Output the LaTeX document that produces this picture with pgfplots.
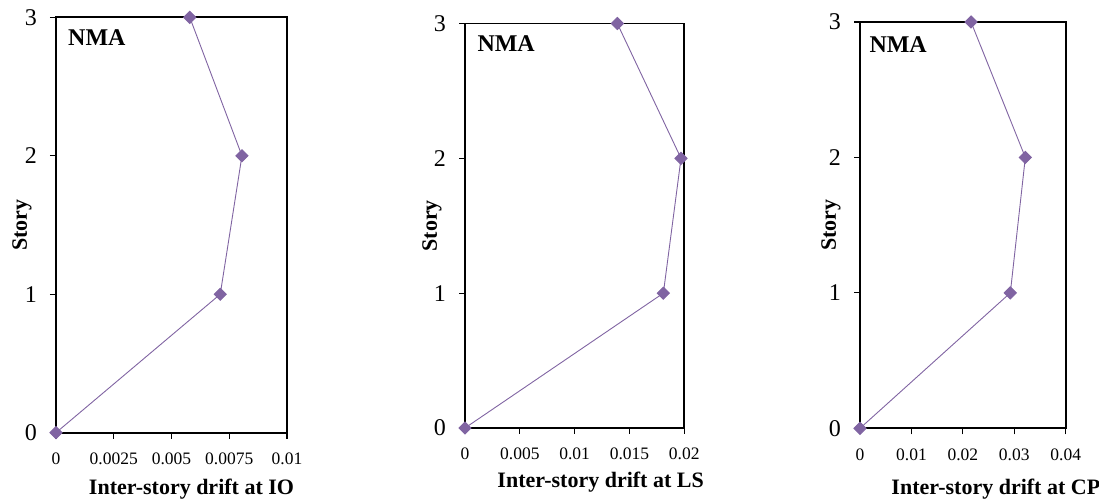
\documentclass[border=0pt]{standalone}
\usepackage{pgfplots}
\pgfplotsset{compat=1.18}
\usepackage{fontspec}
\setmainfont{Liberation Serif}
\definecolor{pur}{HTML}{8064A2}
\pgfplotsset{
  panel/.style={
    scale only axis,
    anchor=south west,
    axis line style={black, line width=1.8pt},
    tick style={black, line width=1.2pt},
    tick align=outside,
    major tick length=6pt,
    xtick pos=bottom, ytick pos=left,
    ymin=0, ymax=3, ytick={0,1,2,3},
    xmin=0,
    clip=false,
    scaled ticks=false,
    /pgf/number format/assume math mode=true,
    yticklabel style={font=\fontsize{24}{24}\selectfont, anchor=east, inner sep=0pt, xshift=-13pt},
    xticklabel style={font=\fontsize{17.5}{17.5}\selectfont, anchor=north, inner sep=0pt, yshift=-14pt},
    label style={font=\fontsize{22}{22}\bfseries\selectfont},
    ylabel={Story},
  },
  ser/.style={pur, line width=0.9pt, mark=square*, mark size=4.3pt, mark options={rotate=45, fill=pur, draw=pur}},
}
\begin{document}
\begin{tikzpicture}[x=1pt,y=1pt]
\path[use as bounding box] (0,0) rectangle (1099,502);
% Panel 1
\begin{axis}[panel, at={(56pt,69.3pt)}, width=231pt, height=415.4pt,
  xmax=0.01, xtick={0,0.0025,0.005,0.0075,0.01},
  xticklabels={0,0.0025,0.005,0.0075,0.01},
  xlabel={Inter-story drift at IO},
  xlabel style={at={([xshift=20pt,yshift=-61.9pt]axis description cs:0.5,0)}, anchor=base},
  ylabel style={at={([xshift=-34pt]axis description cs:0,0.5)}, anchor=center},
]
\addplot[ser] coordinates {(0,0) (0.00711,1) (0.00805,2) (0.00579,3)};
\node[anchor=base west, font=\fontsize{24}{24}\bfseries\selectfont, inner sep=0pt] at ([xshift=12pt,yshift=-28.7pt]axis description cs:0,1) {NMA};
\end{axis}
% Panel 2
\begin{axis}[panel, at={(465pt,74pt)}, width=219.3pt, height=404.5pt,
  xmax=0.02, xtick={0,0.005,0.01,0.015,0.02},
  xticklabels={0,0.005,0.01,0.015,0.02},
  xlabel={Inter-story drift at LS},
  xlabel style={at={([xshift=26pt,yshift=-59.6pt]axis description cs:0.5,0)}, anchor=base},
  ylabel style={at={([xshift=-33pt]axis description cs:0,0.5)}, anchor=center},
]
\addplot[ser] coordinates {(0,0) (0.01809,1) (0.0197,2) (0.01389,3)};
\node[anchor=base west, font=\fontsize{24}{24}\bfseries\selectfont, inner sep=0pt] at ([xshift=12.3pt,yshift=-27.7pt]axis description cs:0,1) {NMA};
\end{axis}
% Panel 3
\begin{axis}[panel, at={(860pt,73.7pt)}, width=205.7pt, height=406.3pt,
  xmax=0.04, xtick={0,0.01,0.02,0.03,0.04},
  xticklabels={0,0.01,0.02,0.03,0.04},
  xlabel={Inter-story drift at CP},
  xlabel style={at={([xshift=33pt,yshift=-66.3pt]axis description cs:0.5,0)}, anchor=base},
  ylabel style={at={([xshift=-29pt]axis description cs:0,0.5)}, anchor=center},
]
\addplot[ser] coordinates {(0,0) (0.02923,1) (0.03215,2) (0.02159,3)};
\node[anchor=base west, font=\fontsize{24}{24}\bfseries\selectfont, inner sep=0pt] at ([xshift=9.3pt,yshift=-30.7pt]axis description cs:0,1) {NMA};
\end{axis}
\end{tikzpicture}
\end{document}
